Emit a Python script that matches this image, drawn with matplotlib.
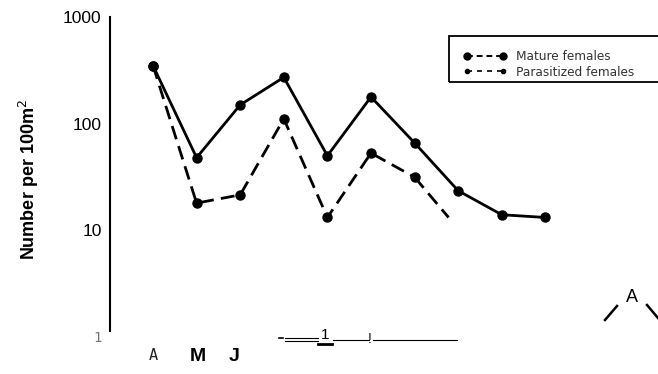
import matplotlib
matplotlib.use("Agg")
import matplotlib.pyplot as plt
from matplotlib.lines import Line2D
from matplotlib.patches import Rectangle

plt.rcParams["font.family"] = ["Liberation Sans", "DejaVu Sans"]

# sampling occasions (evenly spaced along the season)
visits = [0, 1, 2, 3, 4, 5, 6, 7, 8, 9]
mature = [350, 48, 150, 272, 50, 178, 66, 23.5, 14, 13.2]

parasit_x = [0, 1, 2, 3, 4, 5, 6, 6.78]
parasitized = [350, 18, 21.5, 111, 13.2, 53, 31.5, 13.2]

month_pos = [0, 1.03, 1.85]
month_labels = ["A", "M", "J"]

W, H = 658, 374
fig = plt.figure(figsize=(W / 100, H / 100), dpi=100)

# axes placed in pixel terms: left spine at x=110, 1000 at y=17, 1 at y=337
ax_l, ax_r, ax_t, ax_b = 110, 560, 17, 337
ax = fig.add_axes([ax_l / W, 1 - ax_b / H, (ax_r - ax_l) / W, (ax_b - ax_t) / H])
ax.set_yscale("log")
ax.set_ylim(1, 1000)
x0 = (ax_l - 153) / 43.6
x1 = (ax_r - 153) / 43.6
ax.set_xlim(x0, x1)

LW = 2.0
DASH = (0, (5, 2.6))
ax.plot(visits, mature, color="black", lw=LW, marker="o", ms=6.5, zorder=3)
ax.plot(parasit_x[:-1], parasitized[:-1], color="black", lw=LW, ls=DASH,
        marker="o", ms=6.5, zorder=3)
ax.plot(parasit_x[-2:], parasitized[-2:], color="black", lw=LW, ls=DASH,
        zorder=3)

for s in ["top", "right", "bottom"]:
    ax.spines[s].set_visible(False)
ax.spines["left"].set_linewidth(1.5)
ax.spines["left"].set_bounds(1.15, 1000)

ax.set_yticks([1, 10, 100, 1000])
ax.set_yticklabels(["1", "10", "100", "1000"], fontsize=12.5)
ax.minorticks_off()
ax.tick_params(axis="y", length=0, pad=6)
ax.get_yticklabels()[0].set_color("#777777")
ax.get_yticklabels()[0].set_fontsize(10)
ax.get_yticklabels()[0].set_fontfamily("DejaVu Sans Mono")

ax.set_xticks(month_pos)
ax.set_xticklabels(month_labels)
ax.tick_params(axis="x", length=0, pad=8)
xl = ax.get_xticklabels()
xl[0].set_fontfamily("DejaVu Sans Mono")
xl[0].set_fontsize(11)
xl[0].set_color("#222222")
for t in xl[1:]:
    t.set_fontweight("bold")
    t.set_fontsize(14)

fig.text(29 / W, 1 - 180 / H, "Number per 100m$^2$", rotation=90, ha="center",
         va="center", fontsize=13, fontweight="bold")

# legend: box runs off the right edge
fig.add_artist(Rectangle((449 / W, 1 - 82 / H), 220 / W, 46 / H,
                         transform=fig.transFigure, fill=False,
                         edgecolor="black", lw=1.3))
handles = [
    Line2D([], [], color="black", lw=1.4, ls=(0, (3, 2)), marker="o", ms=5),
    Line2D([], [], color="black", lw=1.2, ls=(0, (3, 3)), marker="o", ms=3),
]
leg = fig.legend(handles, ["Mature females", "Parasitized females"],
                 loc="center left", bbox_to_anchor=(452 / W, 1 - 64.5 / H),
                 numpoints=2, frameon=False, handlelength=3.6,
                 handletextpad=0.8, labelspacing=0.2,
                 prop={"family": "DejaVu Sans", "size": 8.7})
for t in leg.get_texts():
    t.set_color("#333333")

# ruled strip along the bottom
def fl(xs, ys, lw=1.0):
    fig.add_artist(Line2D([x / W for x in xs], [1 - y / H for y in ys],
                          color="black", lw=lw))

fl([279, 283], [338, 338], 1.2)
fl([285, 318], [337.5, 337.5], 0.8)
fl([285, 318], [341, 341], 0.8)
fig.text(325 / W, 1 - 335 / H, "1", ha="center", va="center", fontsize=11)
fl([318, 332], [344, 344], 2.0)
fl([333, 369], [340, 340], 0.8)
fig.text(370 / W, 1 - 339 / H, "!", ha="center", va="center", fontsize=10)
fl([373, 457], [340, 340], 0.8)

# corner mark
fig.text(632 / W, 1 - 297 / H, "A", ha="center", va="center", fontsize=13)
fl([605, 617], [320, 306], 1.8)
fl([647, 658], [305, 318], 1.8)

fig.savefig("out.png", dpi=100)
